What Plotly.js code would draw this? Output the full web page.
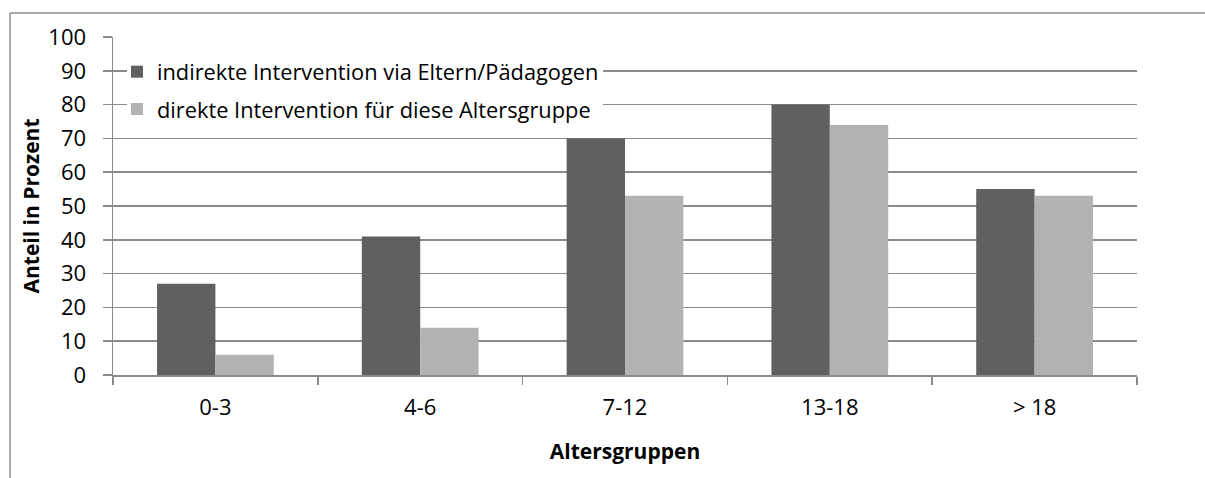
<!DOCTYPE html>
<html>
<head>
<meta charset="utf-8">
<script src="https://cdn.plot.ly/plotly-3.0.1.min.js"></script>
<style>
html,body{margin:0;padding:0;background:#fff;overflow:hidden;}
#chart{width:1205px;height:478px;}
</style>
</head>
<body>
<div id="chart"></div>
<script>
const categories = ["0-3", "4-6", "7-12", "13-18", "> 18"];
const indirekt = [27, 41, 70, 80, 55];
const direkt = [6, 14, 53, 74, 53];
const seriesNames = ["indirekte Intervention via Eltern/Pädagogen", "direkte Intervention für diese Altersgruppe"];
const yTicks = [0, 10, 20, 30, 40, 50, 60, 70, 80, 90, 100];

const FONT = "Open Sans, Lato, sans-serif";
const data = [
  {type: "bar", x: categories, y: indirekt, name: seriesNames[0], marker: {color: "#606060"}, legendgroup: "a"},
  {type: "bar", x: categories, y: direkt, name: seriesNames[1], marker: {color: "#b2b2b2"}, legendgroup: "b"}
];

const gridColor = "#8a8a8a";
const px = v => (v - 113) / 1024;
const py = v => (375 - v) / 338;
const layout = {
  width: 1205, height: 478,
  margin: {l: 113, r: 68, t: 37, b: 103},
  paper_bgcolor: "#fff", plot_bgcolor: "#fff",
  font: {family: FONT, color: "#000", size: 21},
  barmode: "group", bargap: 0.43, bargroupgap: 0,
  xaxis: {
    type: "category",
    showline: true, linecolor: gridColor, linewidth: 1.5,
    ticks: "outside", tickson: "boundaries", ticklen: 8, tickcolor: gridColor, tickwidth: 1.5,
    showgrid: false,
    tickfont: {size: 22},
    ticklabelstandoff: 12,
    title: {text: "<b>Altersgruppen</b>", font: {size: 21}, standoff: 24}
  },
  yaxis: {
    range: [0, 100], tickvals: yTicks, ticktext: yTicks.map(String),
    showline: true, linecolor: gridColor, linewidth: 1.5,
    ticks: "outside", ticklen: 9, tickcolor: gridColor, tickwidth: 1.5,
    showgrid: true, gridcolor: gridColor, gridwidth: 1.5,
    zeroline: false,
    tickfont: {size: 22},
    ticklabelstandoff: 12,
    title: {text: "<b>Anteil in Prozent</b>", font: {size: 21}, standoff: 3}
  },
  showlegend: true,
  legend: {x: px(117), y: py(51), xanchor: "left", yanchor: "top", bgcolor: "rgba(0,0,0,0)", borderwidth: 0,
           font: {size: 21.8}, tracegroupgap: 6, traceorder: "grouped"},
  shapes: [
    {type: "rect", xref: "paper", yref: "paper", layer: "above", x0: px(127), x1: px(603), y0: py(54), y1: py(126), fillcolor: "#fff", line: {width: 0}},
    {type: "line", xref: "paper", yref: "paper", x0: px(10), x1: px(1205), y0: py(13), y1: py(13), line: {color: "#8c8c8c", width: 1.5}},
    {type: "line", xref: "paper", yref: "paper", x0: px(10), x1: px(10), y0: py(13), y1: py(490), line: {color: "#8c8c8c", width: 1.5}}
  ]
};

Plotly.newPlot("chart", data, layout, {displayModeBar: false, staticPlot: true});
</script>
</body>
</html>
